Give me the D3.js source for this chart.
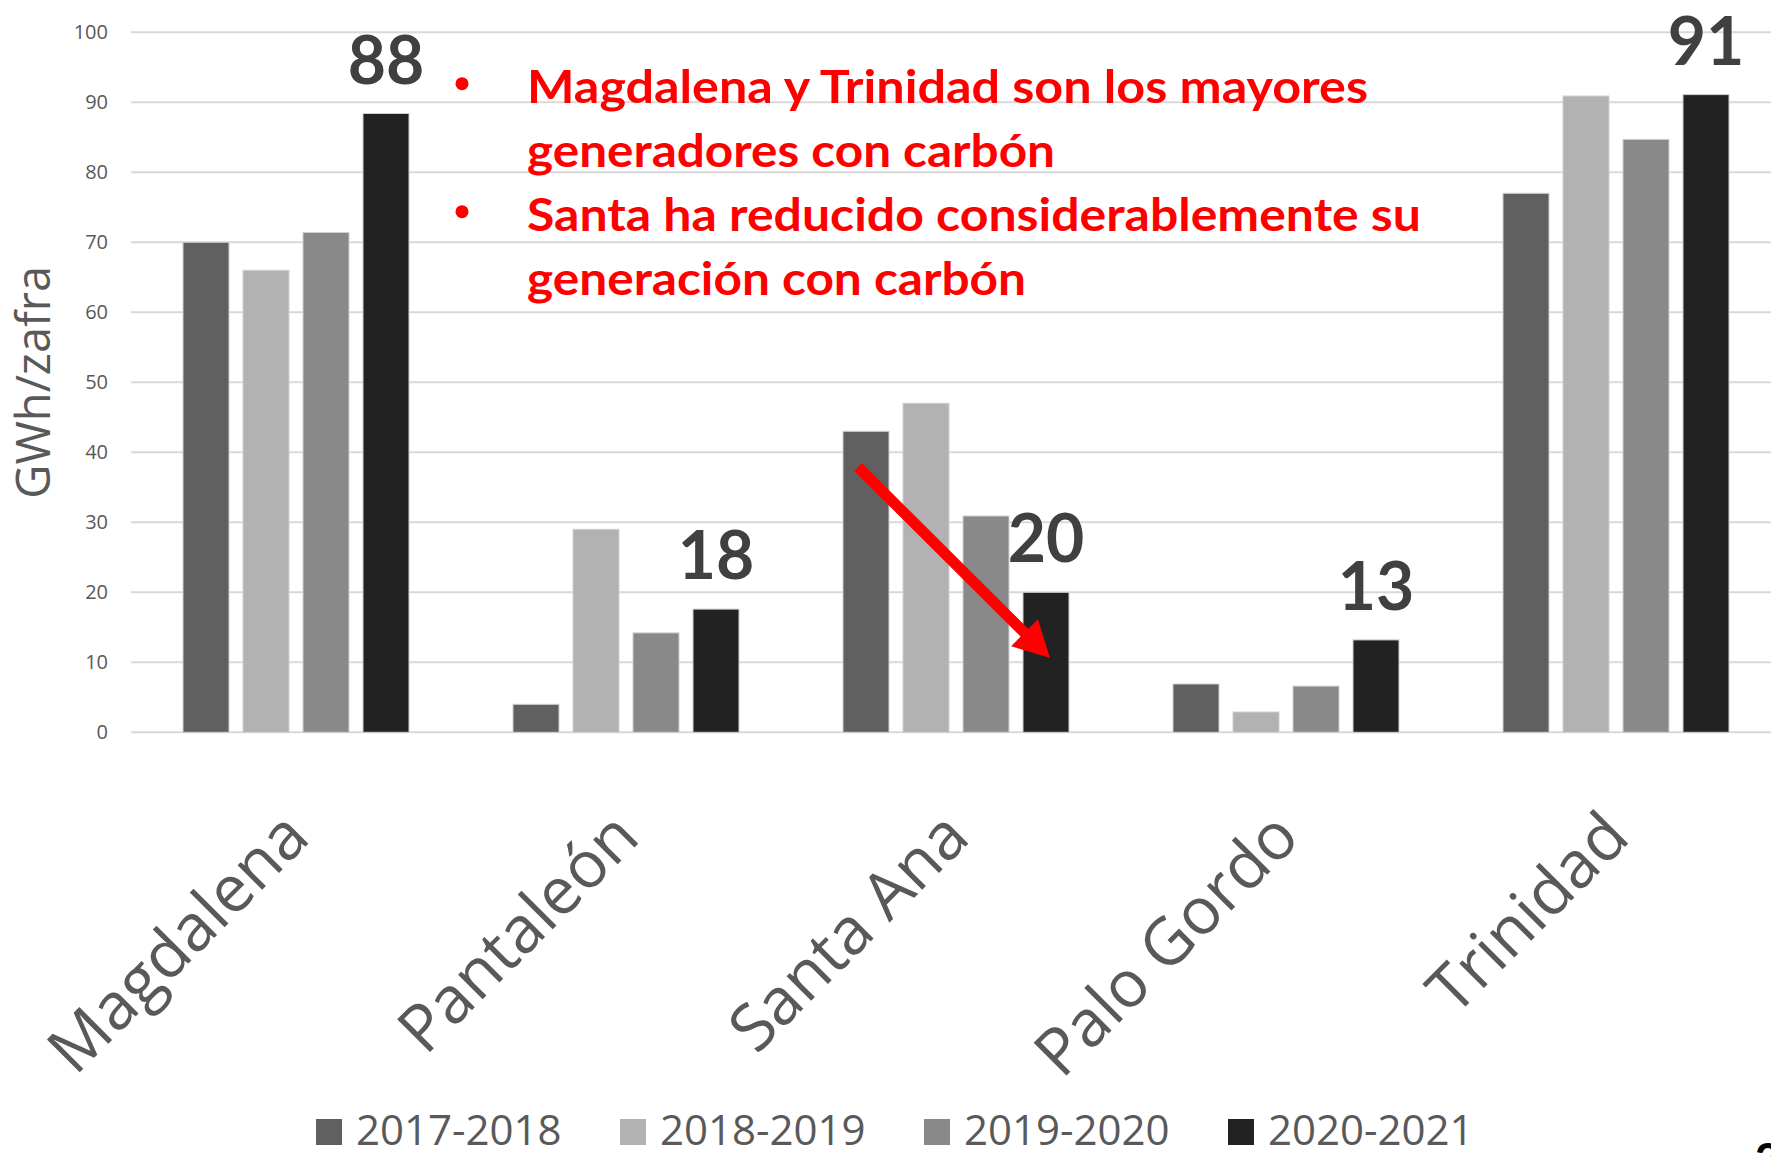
<!DOCTYPE html>
<html>
<head>
<meta charset="utf-8">
<script src="https://cdn.jsdelivr.net/npm/d3@7"></script>
<style>
body{margin:0;background:#fff;}
svg{display:block;}
</style>
</head>
<body>
<svg id="chart"></svg>
<script>
// data
var categories = ["Magdalena", "Pantaleón", "Santa Ana", "Palo Gordo", "Trinidad"];
var seriesNames = ["2017-2018", "2018-2019", "2019-2020", "2020-2021"];
var v2017 = [70, 4, 43, 6.9, 77];
var v2018 = [66, 29, 47, 2.9, 90.9];
var v2019 = [71.4, 14.2, 30.9, 6.6, 84.7];
var v2020 = [88.4, 17.6, 20, 13.2, 91.1];
var bigLabels = ["88", "18", "20", "13", "91"];
var yTicks = [0, 10, 20, 30, 40, 50, 60, 70, 80, 90, 100];
var notes = [
    {bullet: true, text: "Magdalena y Trinidad son los mayores", w: 841},
    {bullet: false, text: "generadores con carbón", w: 528},
    {bullet: true, text: "Santa ha reducido considerablemente su", w: 894},
    {bullet: false, text: "generación con carbón", w: 499}
];
var colors = ["#606060", "#b2b2b2", "#898989", "#222222"];

var width = 1771, height = 1157;
var allSeries = [v2017, v2018, v2019, v2020];

var svg = d3.select("#chart").attr("width", width).attr("height", height);
svg.append("rect").attr("width", width).attr("height", height).attr("fill", "#fff");

var y = d3.scaleLinear().domain([0, 100]).range([732.3, 32.3]);
var x0 = d3.scaleBand().domain(categories).range([131, 1781]);
var x1 = d3.scaleBand().domain(d3.range(4)).range([0, x0.bandwidth()])
    .paddingInner(0.2333).paddingOuter(0.8667);

// gridlines
svg.append("g").selectAll("line").data(yTicks).join("line")
    .attr("x1", 131).attr("x2", width)
    .attr("y1", function(d){ return y(d); }).attr("y2", function(d){ return y(d); })
    .attr("stroke", "#d9d9d9").attr("stroke-width", 2);

// y axis labels
svg.append("g").selectAll("text").data(yTicks).join("text")
    .attr("x", 108).attr("y", function(d){ return y(d); })
    .attr("dy", "0.35em").attr("text-anchor", "end")
    .attr("font-family", "Open Sans").attr("font-size", 20).attr("fill", "#595959")
    .text(function(d){ return d; });

svg.append("text")
    .attr("transform", "translate(50," + y(50) + ") rotate(-90)")
    .attr("text-anchor", "middle")
    .attr("font-family", "Open Sans").attr("font-size", 47).attr("fill", "#595959")
    .text("GWh/zafra");

// bars
var groups = svg.append("g").selectAll("g").data(categories).join("g")
    .attr("transform", function(d){ return "translate(" + x0(d) + ",0)"; });

groups.selectAll("rect").data(function(d, i){
        return allSeries.map(function(s, j){ return {s: j, v: s[i]}; });
    }).join("rect")
    .attr("x", function(d){ return x1(d.s); })
    .attr("width", x1.bandwidth())
    .attr("y", function(d){ return y(d.v); })
    .attr("height", function(d){ return y(0) - y(d.v); })
    .attr("fill", function(d){ return colors[d.s]; })
    .attr("stroke", "#d0d0d0").attr("stroke-width", 1);

// big labels over the 2020-2021 bar
groups.append("text")
    .attr("x", x1(3) + x1.bandwidth() / 2)
    .attr("y", function(d, i){ return y(v2020[i]) - 30; })
    .attr("text-anchor", "middle")
    .attr("font-family", "Lato").attr("font-weight", 700).attr("font-size", 66)
    .attr("fill", "#404040")
    .text(function(d, i){ return bigLabels[i]; });

// category labels, rotated
svg.append("g").selectAll("text").data(categories).join("text")
    .attr("transform", function(d){
        return "translate(" + (x0(d) + x0.bandwidth() / 2 + 16) + ",840) rotate(-45)";
    })
    .attr("text-anchor", "end")
    .attr("font-family", "Open Sans").attr("font-size", 65).attr("fill", "#595959")
    .text(function(d){ return d; });

// notes
var noteG = svg.append("g");
notes.forEach(function(n, i){
    var by = 102.7 + i * 64;
    if (n.bullet) {
        noteG.append("circle").attr("cx", 462).attr("cy", by - 19).attr("r", 6.5).attr("fill", "#ff0000");
    }
    noteG.append("text")
        .attr("x", 527).attr("y", by)
        .attr("font-family", "Lato").attr("font-weight", 700).attr("font-size", 46)
        .attr("fill", "#ff0000")
        .attr("textLength", n.w).attr("lengthAdjust", "spacingAndGlyphs")
        .text(n.text);
});

// arrow on Santa Ana
var sa = x0("Santa Ana");
var ax1 = sa + x1(0) + x1.bandwidth() / 2 - 8, ay1 = y(37.9);
var ax2 = sa + x1(3) + x1.bandwidth() / 2 + 4, ay2 = y(10.6);
var dx = ax2 - ax1, dy = ay2 - ay1, len = Math.sqrt(dx * dx + dy * dy);
var ux = dx / len, uy = dy / len, px = -uy, py = ux;
var sw = 5.5, hl = 36, hw = 19;
var bx = ax2 - ux * hl, by2 = ay2 - uy * hl;
var pts = [
    [ax1 + px * sw, ay1 + py * sw],
    [bx + px * sw, by2 + py * sw],
    [bx + px * hw, by2 + py * hw],
    [ax2, ay2],
    [bx - px * hw, by2 - py * hw],
    [bx - px * sw, by2 - py * sw],
    [ax1 - px * sw, ay1 - py * sw]
];
svg.append("polygon").attr("points", pts.map(function(p){ return p.join(","); }).join(" "))
    .attr("fill", "#ff0000");

// legend
var leg = svg.append("g").selectAll("g").data(seriesNames).join("g")
    .attr("transform", function(d, i){ return "translate(" + (316 + i * 304) + ",1119)"; });
leg.append("rect").attr("width", 26).attr("height", 26)
    .attr("fill", function(d, i){ return colors[i]; });
leg.append("text").attr("x", 40).attr("y", 26)
    .attr("font-family", "Open Sans").attr("font-size", 42).attr("fill", "#595959")
    .text(function(d){ return d; });

// slide number, cut by the edge
svg.append("text").attr("x", 1755).attr("y", 1175)
    .attr("font-family", "Lato").attr("font-weight", 900).attr("font-size", 44)
    .attr("fill", "#000").text("2");
</script>
</body>
</html>
